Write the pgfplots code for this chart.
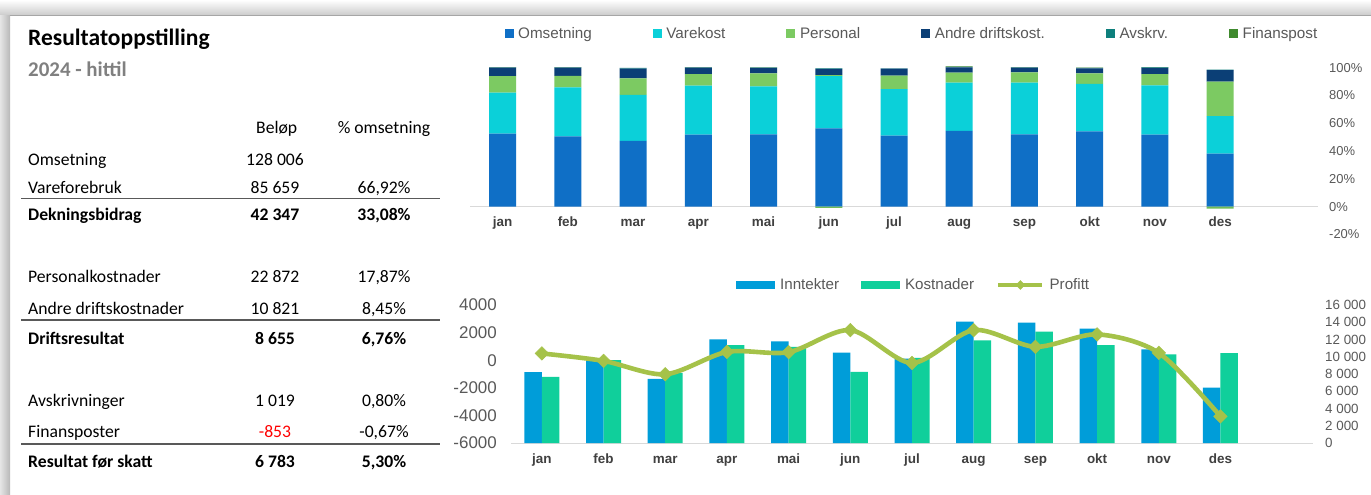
\documentclass[border=0pt]{standalone}
\usepackage{pgfplots}
\pgfplotsset{compat=1.18}
\usepackage{pgfplotstable}
\usepackage{fontspec}
\setmainfont{Liberation Sans}
\newfontfamily\calibri{Carlito}

\definecolor{omset}{HTML}{0F6FC6}
\definecolor{vare}{HTML}{0BD0D9}
\definecolor{pers}{HTML}{7CCA62}
\definecolor{andre}{HTML}{0B3F76}
\definecolor{avskr}{HTML}{0E7F7C}
\definecolor{finans}{HTML}{3F8A2E}
\definecolor{innt}{HTML}{009DD9}
\definecolor{kost}{HTML}{10CF9B}
\definecolor{prof}{HTML}{A5C249}
\definecolor{txt}{HTML}{595959}
\definecolor{lbl}{HTML}{404040}
\definecolor{axgray}{HTML}{D9D9D9}
\definecolor{neg}{HTML}{FF0000}

\pgfplotstableread{
m omset vare pers andre avskr finans
0 52.5 29.5 12.0 6.0 0.3 0.2
1 50.6 35.3 8.3 5.8 0.3 0.2
2 47.3 33.1 12.0 6.9 0.6 0.0
3 51.8 35.3 8.2 4.7 0.3 0.2
4 52.1 34.5 9.4 3.8 0.3 0.2
5 56.3 37.7 0.7 4.5 0.3 0.0
6 51.1 33.4 9.8 5.0 0.3 0.0
7 54.5 34.7 7.2 3.9 0.3 0.3
8 52.1 37.1 7.5 3.3 0.3 0.2
9 54.2 34.2 7.5 3.6 0.3 0.2
10 51.8 35.5 8.1 4.5 0.3 0.3
11 38.1 27.1 24.7 8.4 0.4 0.0
}\topdata

\pgfplotstableread{
m finneg
5 -0.9
11 -1.4
}\topneg

\pgfplotstableread{
m innt kost profitt
0 8210 7670 490
1 9770 9600 -50
2 7440 8140 -1020
3 12010 11350 600
4 11780 11160 580
5 10470 8260 2180
6 9770 9880 -200
7 14070 11900 2180
8 13950 12910 970
9 13260 11350 1870
10 10850 10270 530
11 6430 10420 -4070
}\bottomdata

\tikzset{
  tl/.style={anchor=base west, inner sep=0pt, font=\calibri\fontsize{17.7}{21}\selectfont},
  tlb/.style={anchor=base west, inner sep=0pt, font=\calibri\bfseries\fontsize{17.7}{21}\selectfont},
  tc/.style={anchor=base, inner sep=0pt, font=\calibri\fontsize{17.7}{21}\selectfont},
  tcb/.style={anchor=base, inner sep=0pt, font=\calibri\bfseries\fontsize{17.7}{21}\selectfont},
}

\begin{document}
\begin{tikzpicture}
\path[use as bounding box] (0,0) rectangle (1371bp,-495bp);
\fill[white] (0,0) rectangle (1371bp,-495bp);
% window shadow
\shade[top color=white, bottom color=black!20] (0,0) rectangle (1371bp,-15bp);
\shade[left color=black!10, right color=black!28] (0,-15bp) rectangle (10bp,-495bp);
\draw[black!35, line width=0.8bp] (10bp,-15.6bp) -- (1371bp,-15.6bp);

% ---------- top stacked chart ----------
\begin{axis}[
  at={(470bp,-234.5bp)}, anchor=south west,
  scale only axis, width=848bp, height=166.8bp,
  xmin=-0.5, xmax=12.5, ymin=-20, ymax=100,
  ybar stacked, bar width=27bp,
  clip=false,
  axis x line*=middle, axis y line*=right,
  x axis line style={draw=axgray, line width=1bp},
  y axis line style={draw=none},
  major tick length=0pt, tick style={draw=none},
  xtick={0,...,11},
  xticklabels={jan,feb,mar,apr,mai,jun,jul,aug,sep,okt,nov,des},
  xticklabel style={font=\bfseries\fontsize{13.5}{16}\selectfont, text=lbl, anchor=base, inner sep=0pt, yshift=-20bp},
  ytick={-20,0,20,40,60,80,100},
  yticklabel={\pgfmathprintnumber{\tick}\%},
  yticklabel style={font=\fontsize{13}{15}\selectfont, text=txt, anchor=west, inner sep=0pt, xshift=11bp},
  /pgf/number format/assume math mode=true,
  legend columns=-1,
  legend style={draw=none, fill=none, at={(0.0405,1.205)}, anchor=west, inner sep=0pt,
    font=\fontsize{15.3}{18}\selectfont, text=txt, nodes={inner sep=0pt},
    /tikz/every even column/.append style={column sep=61bp},
    /tikz/every odd column/.append style={column sep=4.6bp}},
  legend image code/.code={\fill[#1] (0bp,-4.5bp) rectangle (9bp,4.5bp);},
]
\addplot[fill=omset, draw=none] table[x=m,y=omset]{\topdata};
\addplot[fill=vare, draw=none] table[x=m,y=vare]{\topdata};
\addplot[fill=pers, draw=none] table[x=m,y=pers]{\topdata};
\addplot[fill=andre, draw=none] table[x=m,y=andre]{\topdata};
\addplot[fill=avskr, draw=none] table[x=m,y=avskr]{\topdata};
\addplot[fill=finans, draw=none] table[x=m,y=finans]{\topdata};
\legend{Omsetning,Varekost,Personal,Andre driftskost.,Avskrv.,Finanspost}
\end{axis}
% negative part of Finanspost
\begin{axis}[
  at={(470bp,-234.5bp)}, anchor=south west,
  scale only axis, width=848bp, height=166.8bp,
  xmin=-0.5, xmax=12.5, ymin=-20, ymax=100,
  ybar, bar width=27bp, hide axis, clip=false,
]
\addplot[fill=pers!80!finans, draw=none] table[x=m,y=finneg]{\topneg};
\end{axis}

% ---------- bottom chart: bars (right axis) ----------
\begin{axis}[
  at={(511bp,-443bp)}, anchor=south west,
  scale only axis, width=802bp, height=138bp,
  xmin=-0.5, xmax=12.5, ymin=0, ymax=16000,
  ybar=0pt, bar width=17.5bp,
  axis x line*=bottom, axis y line*=right,
  x axis line style={draw=axgray, line width=1bp},
  y axis line style={draw=none},
  major tick length=0pt, tick style={draw=none},
  xtick={0,...,11},
  xticklabels={jan,feb,mar,apr,mai,jun,jul,aug,sep,okt,nov,des},
  xticklabel style={font=\bfseries\fontsize{13.5}{16}\selectfont, text=lbl, anchor=base, inner sep=0pt, yshift=-20.5bp},
  ytick={0,2000,...,16000},
  scaled y ticks=false,
  yticklabel style={font=\fontsize{13.4}{16}\selectfont, text=txt, anchor=west, inner sep=0pt, xshift=12bp},
  /pgf/number format/assume math mode=true,
  /pgf/number format/1000 sep={\ },
  legend columns=-1,
  legend style={draw=none, fill=none, at={(0.2805,1.145)}, anchor=west, inner sep=0pt,
    font=\fontsize{15.2}{18}\selectfont, text=txt, nodes={inner sep=0pt},
    /tikz/every even column/.append style={column sep=22bp},
    /tikz/every odd column/.append style={column sep=5bp}},
  legend image code/.code={\fill[#1] (0bp,-4bp) rectangle (39bp,4bp);},
]
\addplot[fill=innt, draw=none] table[x=m,y=innt]{\bottomdata};
\addplot[fill=kost, draw=none] table[x=m,y=kost]{\bottomdata};
\addlegendimage{legend image code/.code={
  \draw[prof, line width=4.5bp] (0bp,0bp) -- (44bp,0bp);
  \fill[prof] (17.5bp,0bp) -- (22bp,4.5bp) -- (26.5bp,0bp) -- (22bp,-4.5bp) -- cycle;}}
\legend{Inntekter,Kostnader,Profitt}
\end{axis}

% ---------- bottom chart: profit line (left axis) ----------
\begin{axis}[
  at={(511bp,-443bp)}, anchor=south west,
  scale only axis, width=802bp, height=138bp,
  xmin=-0.5, xmax=12.5, ymin=-6000, ymax=4000,
  axis x line=none, xtick=\empty,
  axis y line*=left, y axis line style={draw=none},
  major tick length=0pt, tick style={draw=none},
  ytick={-6000,-4000,-2000,0,2000,4000},
  scaled y ticks=false,
  yticklabel style={font=\fontsize{17}{20}\selectfont, text=txt, anchor=east, inner sep=0pt, xshift=-14bp},
  /pgf/number format/assume math mode=true,
  /pgf/number format/1000 sep={},
  clip=false,
]
\addplot[prof, line width=4.6bp, smooth, mark=square*, mark size=4.8bp,
  mark options={rotate=45, line width=0.5bp, solid}] table[x=m,y=profitt]{\bottomdata};
\end{axis}

% ---------- left table ----------
\node[anchor=base west, inner sep=0pt, font=\calibri\bfseries\fontsize{23.6}{27}\selectfont] at (28bp,-45bp) {Resultatoppstilling};
\node[anchor=base west, inner sep=0pt, font=\calibri\bfseries\fontsize{21}{25}\selectfont, text=black!50] at (28bp,-76.7bp) {2024 - hittil};

\node[tc] at (276.7bp,-133.3bp) {Beløp};
\node[tc] at (384bp,-133.3bp) {\% omsetning};

\node[tl] at (28bp,-165bp) {Omsetning};
\node[tc] at (275bp,-165bp) {128 006};

\node[tl] at (28bp,-193.3bp) {Vareforebruk};
\node[tc] at (275bp,-193.3bp) {85 659};
\node[tc] at (384bp,-193.3bp) {66,92\%};

\draw[black!65, line width=1.3bp] (21bp,-198.3bp) -- (440bp,-198.3bp);

\node[tlb] at (28bp,-220.7bp) {Dekningsbidrag};
\node[tcb] at (275bp,-220.7bp) {42 347};
\node[tcb] at (384bp,-220.7bp) {33,08\%};

\node[tl] at (28bp,-282.3bp) {Personalkostnader};
\node[tc] at (275bp,-282.3bp) {22 872};
\node[tc] at (384bp,-282.3bp) {17,87\%};

\node[tl] at (28bp,-314bp) {Andre driftskostnader};
\node[tc] at (275bp,-314bp) {10 821};
\node[tc] at (384bp,-314bp) {8,45\%};

\draw[black!65, line width=1.3bp] (21bp,-320bp) -- (440bp,-320bp);

\node[tlb] at (28bp,-344bp) {Driftsresultat};
\node[tcb] at (275bp,-344bp) {8 655};
\node[tcb] at (384bp,-344bp) {6,76\%};

\node[tl] at (28bp,-406.7bp) {Avskrivninger};
\node[tc] at (275bp,-406.7bp) {1 019};
\node[tc] at (384bp,-406.7bp) {0,80\%};

\node[tl] at (28bp,-437.7bp) {Finansposter};
\node[tc, text=neg] at (275bp,-437.7bp) {-853};
\node[tc] at (384bp,-437.7bp) {-0,67\%};

\draw[black!65, line width=1.3bp] (21bp,-444bp) -- (440bp,-444bp);

\node[tlb] at (28bp,-467.3bp) {Resultat før skatt};
\node[tcb] at (275bp,-467.3bp) {6 783};
\node[tcb] at (384bp,-467.3bp) {5,30\%};
\end{tikzpicture}
\end{document}
